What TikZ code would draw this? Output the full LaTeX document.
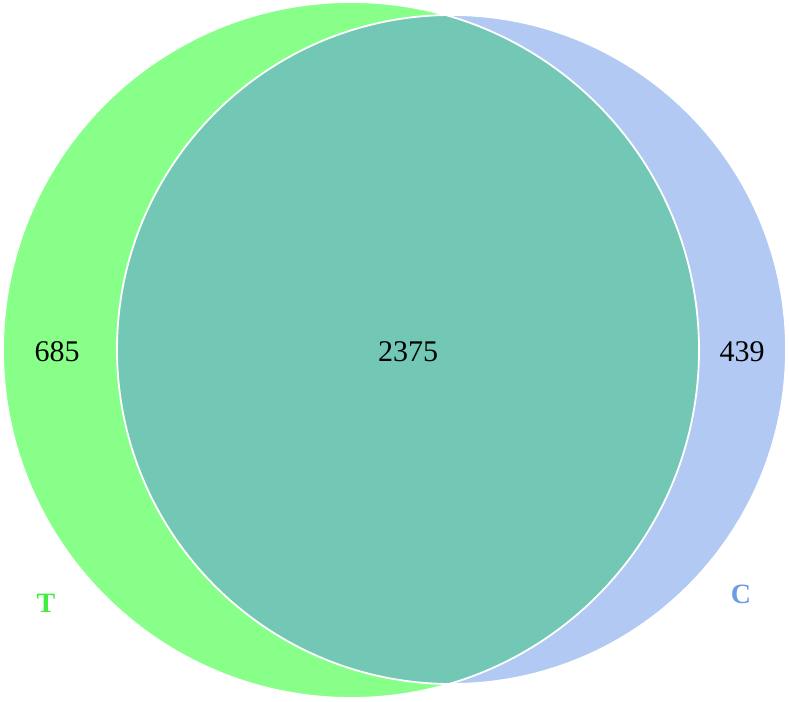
\documentclass[tikz,border=0pt]{standalone}
\usepackage{fontspec}
\setmainfont{Liberation Serif}
\definecolor{tfill}{HTML}{88FF88}
\definecolor{cfill}{HTML}{B1C9F3}
\definecolor{both}{HTML}{72C8B5}
\definecolor{tlab}{HTML}{40EE40}
\definecolor{clab}{HTML}{6D9CE6}
\tikzset{
  setlabel/.style={font=\fontsize{28}{30}\selectfont\bfseries},
  countlabel/.style={font=\fontsize{30}{32}\selectfont, text=black}
}
\begin{document}
\begin{tikzpicture}[x=1pt,y=1pt]
\useasboundingbox (0,0) rectangle (789,701);
\coordinate (tc) at (351,351);
\coordinate (cc) at (451.5,351.5);
\fill[tfill] (tc) circle (348);
\fill[cfill] (cc) circle (334.5);
\begin{scope}
  \clip (tc) circle (348);
  \fill[both] (cc) circle (334.5);
\end{scope}
\draw[white, line width=1.8] (tc) circle (348);
\draw[white, line width=1.8] (cc) circle (334.5);
\node[countlabel] (n685) at (57,349) {685};
\node[countlabel] (n2375) at (408,349) {2375};
\node[countlabel] (n439) at (742,349) {439};
\node[setlabel, text=tlab] (lt) at (46,98) {T};
\node[setlabel, text=clab] (lc) at (741,107) {C};
\end{tikzpicture}
\end{document}
